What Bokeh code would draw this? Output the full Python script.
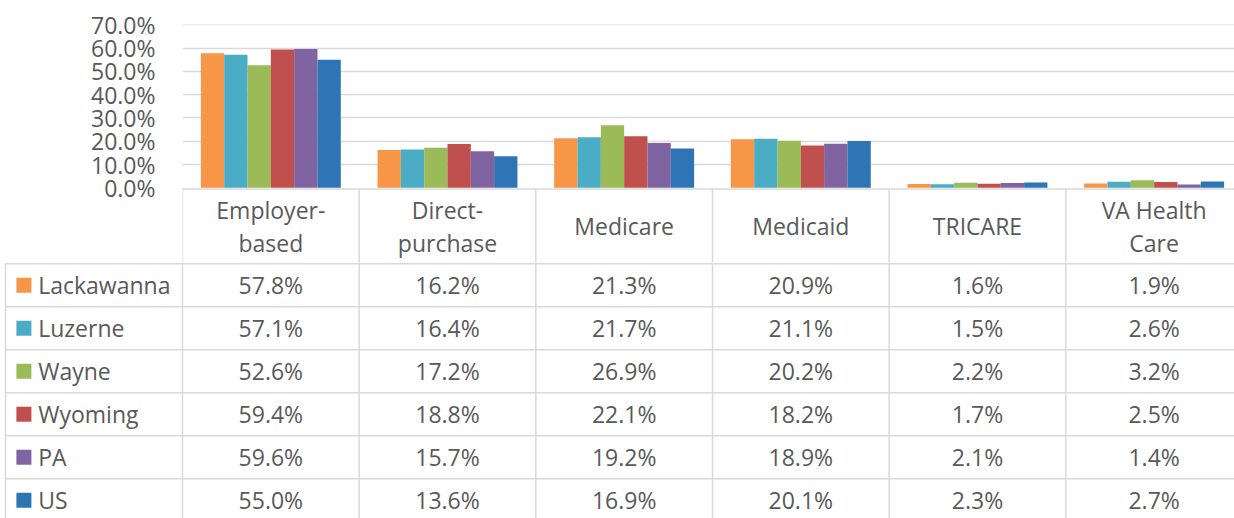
from bokeh.plotting import figure
from bokeh.models import ColumnDataSource, Range1d, FixedTicker, PrintfTickFormatter
from bokeh.transform import dodge
from bokeh.core.properties import value
from bokeh.embed import file_html
from bokeh.resources import INLINE

# ---------------- data ----------------
categories = ["Employer-\nbased", "Direct-\npurchase", "Medicare", "Medicaid", "TRICARE", "VA Health\nCare"]
series_names = ["Lackawanna", "Luzerne", "Wayne", "Wyoming", "PA", "US"]
lackawanna = [57.8, 16.2, 21.3, 20.9, 1.6, 1.9]
luzerne = [57.1, 16.4, 21.7, 21.1, 1.5, 2.6]
wayne = [52.6, 17.2, 26.9, 20.2, 2.2, 3.2]
wyoming = [59.4, 18.8, 22.1, 18.2, 1.7, 2.5]
pa = [59.6, 15.7, 19.2, 18.9, 2.1, 1.4]
us = [55.0, 13.6, 16.9, 20.1, 2.3, 2.7]
y_ticks = [0, 10, 20, 30, 40, 50, 60, 70]

series_values = [lackawanna, luzerne, wayne, wyoming, pa, us]
colors = ["#F79646", "#4BACC6", "#9BBB59", "#C0504D", "#8064A2", "#2E75B6"]

FONT = value("Open Sans")
FS = "23px"
TXT = "#595959"
LINE = "#D9D9D9"
LW = 1.5

# ---------------- geometry (page pixels) ----------------
W = 1234
H = 518
COL_PX = 176.66          # width of one table column
COL0 = 182               # page x where the first category column starts
FRAME_TOP = 24
Y0_PX, Y70_PX = 187.3, 24.3
SPLIT = 262              # page y where the chart figure ends and the table figure starts
TABLE_TOP = 188.5
HEAD_BOT = 263.3
ROW_H = 43.0
LINE_SPACING = 33
BAR_W = 0.132
LEG_LEFT = 5

n = len(categories)
nrows = len(series_names)
xc = [i + 0.5 for i in range(n)]
x_end = (W - COL0) / COL_PX

ppu = (Y0_PX - Y70_PX) / 70.0
y_lo = -(SPLIT - Y0_PX) / ppu
y_hi = 70 + (Y70_PX - FRAME_TOP) / ppu

# ---------------- chart + header row (top) ----------------
top = figure(width=W, height=SPLIT, output_backend="svg", toolbar_location=None,
             x_range=Range1d(0, x_end), y_range=Range1d(y_lo, y_hi),
             min_border_left=COL0, min_border_right=0, min_border_top=FRAME_TOP,
             min_border_bottom=0, x_axis_type=None)
top.extra_y_ranges = {"px": Range1d(SPLIT, FRAME_TOP)}
top.outline_line_color = None

src = ColumnDataSource(dict(xc=xc, **{name: vals for name, vals in zip(series_names, series_values)}))
for j, (name, col) in enumerate(zip(series_names, colors)):
    off = (j - (nrows - 1) / 2) * BAR_W
    top.vbar(x=dodge("xc", off), top=name, bottom=0, width=BAR_W, source=src,
             fill_color=col, line_color=None)

ya = top.yaxis[0]
ya.ticker = FixedTicker(ticks=y_ticks)
ya.formatter = PrintfTickFormatter(format="%.1f%%")
ya.axis_line_color = None
ya.major_tick_line_color = None
ya.minor_tick_line_color = None
ya.major_tick_in = 0
ya.major_tick_out = 0
ya.major_label_standoff = 27
ya.major_label_text_font = "Open Sans"
ya.major_label_text_font_size = FS
ya.major_label_text_color = TXT
top.ygrid.ticker = FixedTicker(ticks=y_ticks[1:])
top.ygrid.grid_line_color = LINE
top.ygrid.grid_line_width = 1.3

# header-row borders
hxs, hys = [[0, x_end]], [[TABLE_TOP, TABLE_TOP]]
for i in range(n + 1):
    hxs.append([i, i]); hys.append([TABLE_TOP, SPLIT + 2])
top.multi_line(xs=hxs, ys=hys, line_color=LINE, line_width=LW, y_range_name="px")

# header texts (each line of a category label)
head_c = (TABLE_TOP + HEAD_BOT) / 2
hx, hy, ht = [], [], []
for i, cat in enumerate(categories):
    lines = cat.split("\n")
    for k, ln in enumerate(lines):
        hx.append(xc[i]); hy.append(head_c + (k - (len(lines) - 1) / 2) * LINE_SPACING); ht.append(ln)
top.text(x=hx, y=hy, text=ht, text_font=FONT, text_font_size=FS, text_color=TXT,
         text_align="center", text_baseline="middle", y_range_name="px")

# ---------------- data rows (bottom) ----------------
bot = figure(width=W, height=H - SPLIT, output_backend="svg", toolbar_location=None,
             x_range=Range1d(-COL0 / COL_PX, x_end), y_range=Range1d(H, SPLIT),
             min_border=0, x_axis_type=None, y_axis_type=None)
bot.outline_line_color = None

leg_left = (LEG_LEFT - COL0) / COL_PX
y_bottom = HEAD_BOT + ROW_H * nrows
xs, ys = [], []
for r in range(nrows + 1):
    yy = HEAD_BOT + r * ROW_H
    xs.append([leg_left, x_end]); ys.append([yy, yy])
xs.append([leg_left, leg_left]); ys.append([HEAD_BOT, y_bottom])
for i in range(n + 1):
    xs.append([i, i]); ys.append([SPLIT - 2, y_bottom])
bot.multi_line(xs=xs, ys=ys, line_color=LINE, line_width=LW)

# legend column
row_c = [HEAD_BOT + (r + 0.5) * ROW_H for r in range(nrows)]
sw_x = (23.4 - COL0) / COL_PX
lab_x = (37.7 - COL0) / COL_PX
bot.rect(x=[sw_x] * nrows, y=row_c, width=15, height=15, width_units="screen", height_units="screen",
         fill_color=colors, line_color=None)
bot.text(x=[lab_x] * nrows, y=row_c, text=series_names, text_font=FONT, text_font_size=FS,
         text_color=TXT, text_align="left", text_baseline="middle")

# values
vx, vy, vt = [], [], []
for r, vals in enumerate(series_values):
    for i, v in enumerate(vals):
        vx.append(xc[i]); vy.append(row_c[r]); vt.append(f"{v:.1f}%")
bot.text(x=vx, y=vy, text=vt, text_font=FONT, text_font_size=FS, text_color=TXT,
         text_align="center", text_baseline="middle")

open("out.html", "w").write(file_html([top, bot], INLINE))
